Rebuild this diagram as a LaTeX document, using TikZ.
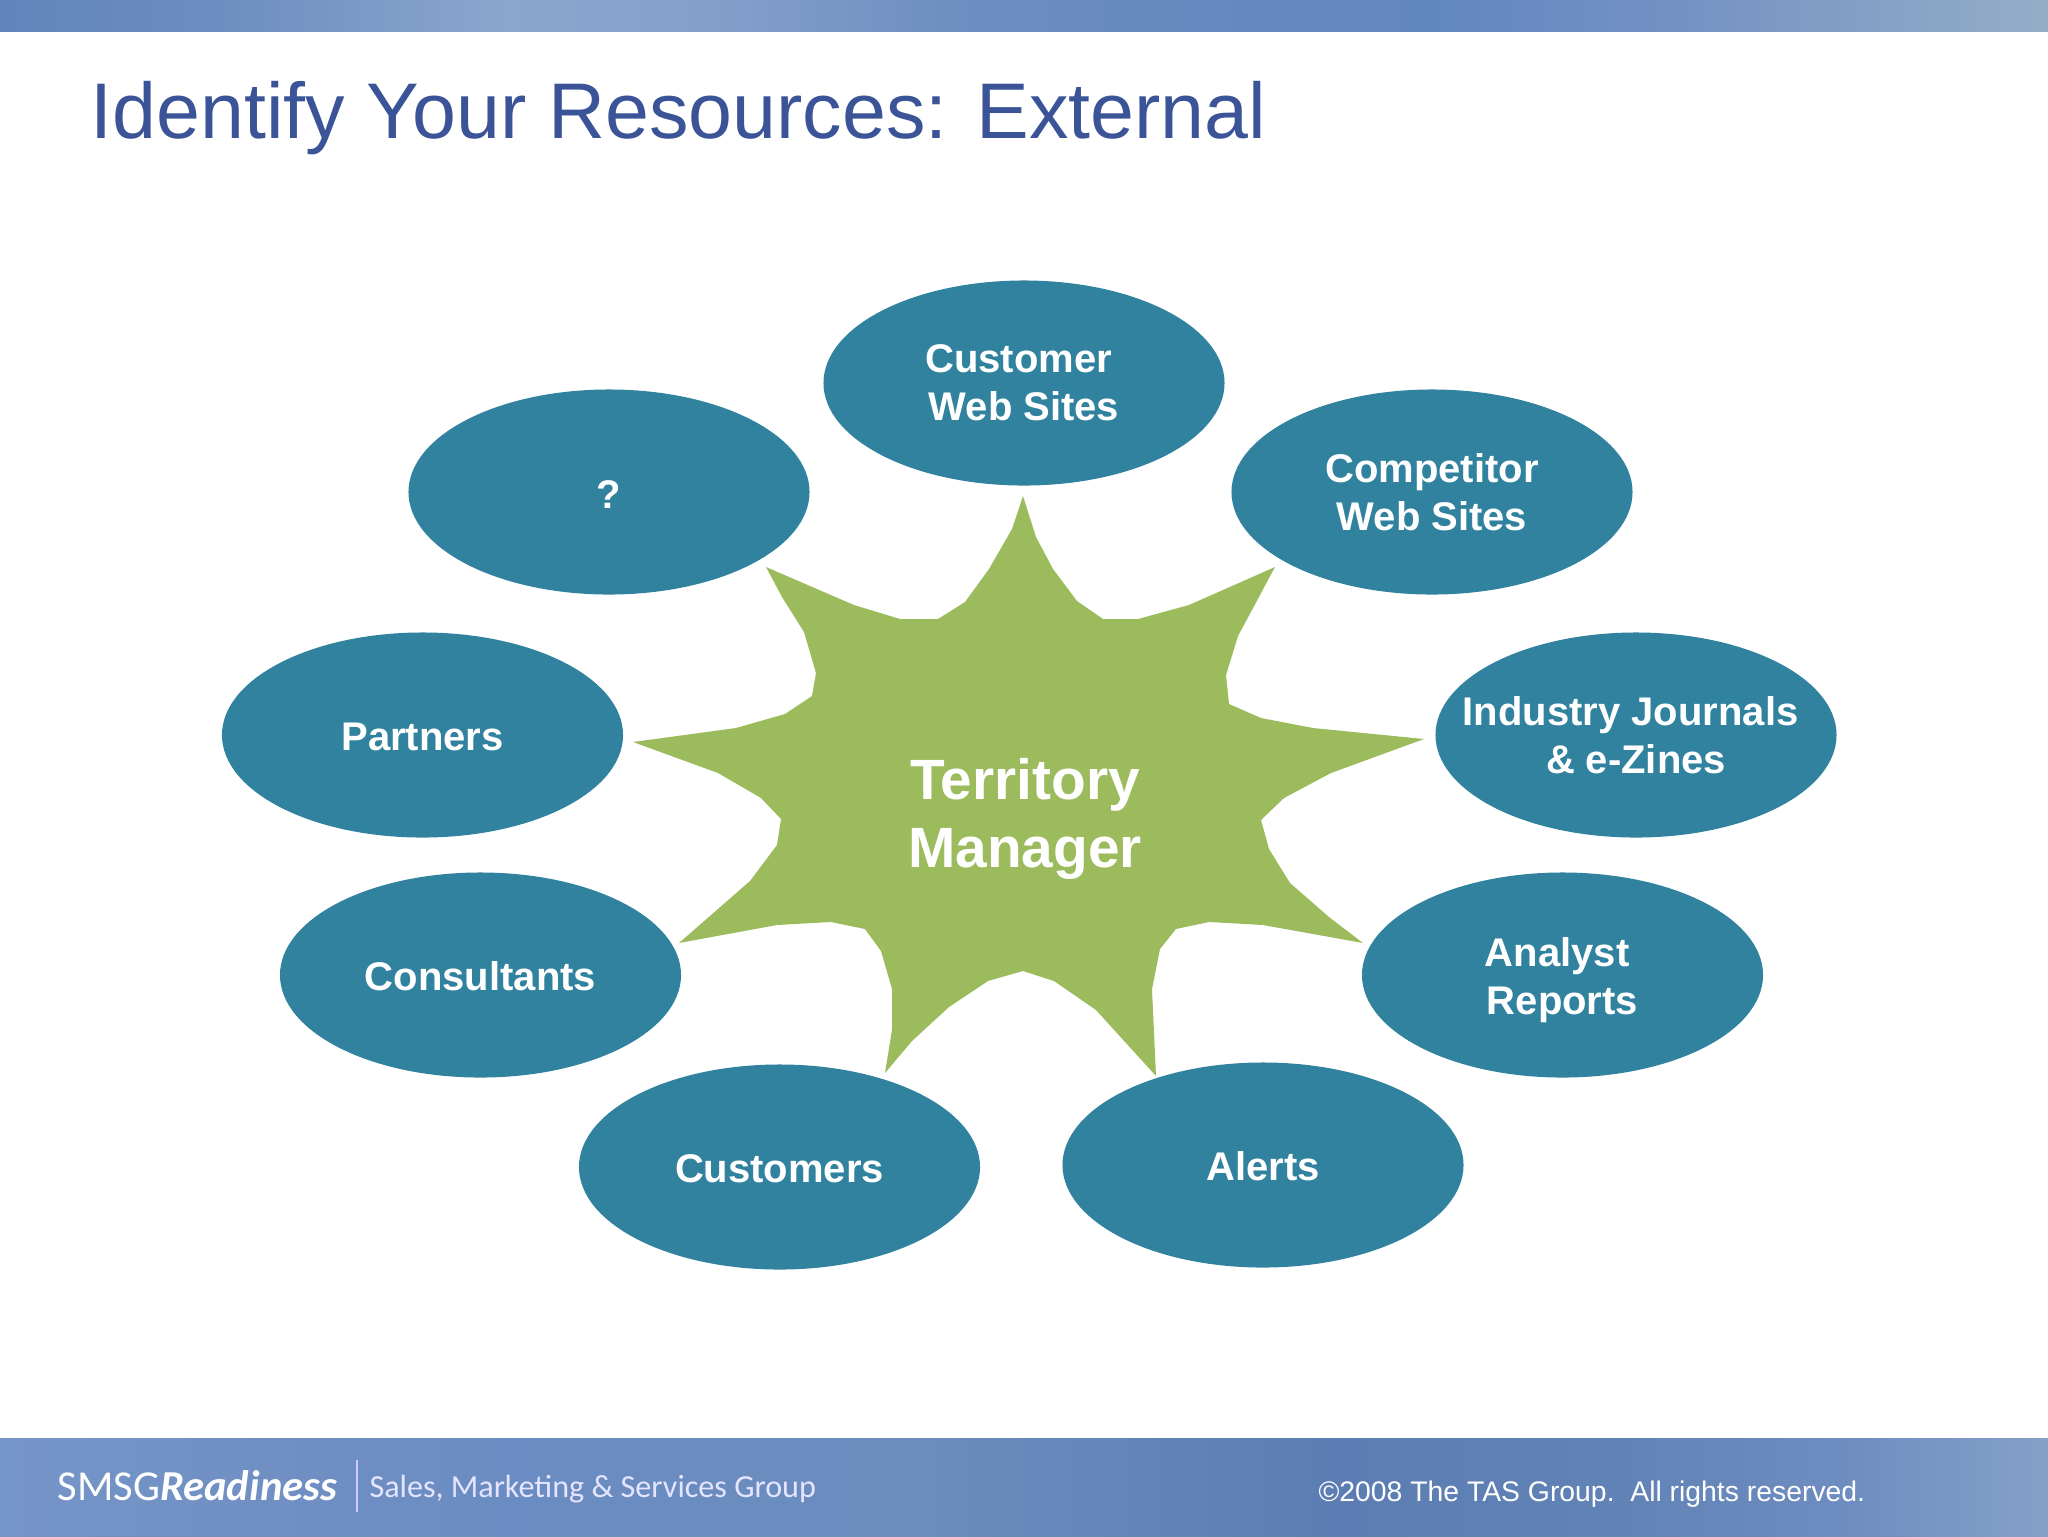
\documentclass[tikz,border=0pt]{standalone}
\usepackage{fontspec}
\setmainfont{Liberation Sans}
\setsansfont{Carlito}
\usepackage{xcolor}
\usetikzlibrary{shapes.geometric}
\definecolor{tealblob}{HTML}{31829E}
\definecolor{stargreen}{HTML}{9BBB5D}
\definecolor{titleblue}{HTML}{3B5497}
\pgfdeclarehorizontalshading{topband}{100bp}{rgb(0bp)=(0.38,0.52,0.73);rgb(25bp)=(0.38,0.52,0.73);rgb(30bp)=(0.42,0.55,0.75);rgb(37.5bp)=(0.55,0.65,0.81);rgb(42.5bp)=(0.52,0.62,0.80);rgb(49bp)=(0.42,0.55,0.75);rgb(60bp)=(0.38,0.53,0.75);rgb(66bp)=(0.46,0.57,0.77);rgb(75bp)=(0.58,0.68,0.78);rgb(100bp)=(0.58,0.68,0.78)}
\pgfdeclarehorizontalshading{footband}{100bp}{rgb(0bp)=(0.46,0.58,0.78);rgb(25bp)=(0.46,0.58,0.78);rgb(37.5bp)=(0.42,0.55,0.76);rgb(47.5bp)=(0.42,0.55,0.74);rgb(57.5bp)=(0.36,0.49,0.70);rgb(64bp)=(0.38,0.51,0.71);rgb(70bp)=(0.43,0.55,0.75);rgb(75bp)=(0.52,0.63,0.79);rgb(100bp)=(0.52,0.63,0.79)}
\tikzset{
  blob/.style={ellipse, fill=tealblob, text=white, font=\fontsize{15}{18}\selectfont\bfseries,
    align=center, minimum width=150.4pt, minimum height=76.9pt, inner xsep=-20pt, inner ysep=-8pt,
    execute at begin node=\rule{0pt}{12.1pt}},
}

\begin{document}
\begin{tikzpicture}[x=0.375pt,y=-0.375pt]
  \useasboundingbox (0,0) rectangle (2048,1536);
  % bands
  \shade[shading=topband] (0,0) rectangle (2048,31);
  \shade[shading=footband] (0,1438) rectangle (2048,1536);

  % title
  \node[anchor=west, inner sep=0pt, text=titleblue, font=\fontsize{29.6}{34}\selectfont] (title) at (90,118.5) {Identify Your Resources: External};

  % star
  \fill[stargreen] (1023,496) -- (1036,537) -- (1053,569) -- (1077,601) -- (1103,619) -- (1138,619)
    -- (1189,605) -- (1275,567) -- (1238,636) -- (1226,675) -- (1229,704) -- (1261,718) -- (1313,728)
    -- (1424,739) -- (1331,773) -- (1284,798) -- (1261,820) -- (1269,849) -- (1290,883) -- (1329,917)
    -- (1363,943) -- (1263,925) -- (1209,922) -- (1176,929) -- (1160,949) -- (1152,989) -- (1156,1076)
    -- (1096,1010) -- (1054,981) -- (1023,971) -- (988,981) -- (949,1007) -- (912,1041) -- (885,1073)
    -- (892,1030) -- (892,989) -- (881,951) -- (865,929) -- (831,922) -- (777,925) -- (679,943)
    -- (750,881) -- (777,845) -- (781,819) -- (761,798) -- (718,773) -- (633,742) -- (736,728)
    -- (785,714) -- (812,696) -- (816,673) -- (804,632) -- (782,597) -- (766,567) -- (854,605)
    -- (900,619) -- (938,619) -- (965,602) -- (989,569) -- (1012,529) -- cycle;
  \node[text=white, align=center, font=\fontsize{21.3}{25.5}\selectfont\bfseries] (manager) at (1025,819) {Territory\\Manager};

  % ellipses
  \node[blob] (custweb) at (1024,383) {Customer\hspace*{4pt}\\Web Sites};
  \node[blob] (unknown) at (609,492) {?};
  \node[blob] (compweb) at (1432,492) {Competitor\\Web Sites};
  \node[blob] (journals) at (1636,735) {Industry Journals\hspace*{4pt}\\\& e-Zines};
  \node[blob] (partners) at (422.5,735) {Partners};
  \node[blob] (consultants) at (480.5,975) {Consultants};
  \node[blob] (analyst) at (1562.5,975) {\rule{0pt}{15pt}Analyst\hspace*{4pt}\\Reports};
  \node[blob] (customers) at (779.5,1167) {Customers};
  \node[blob] (alerts) at (1263,1165) {Alerts};

  % footer
  \node[anchor=west, inner sep=0pt, text=white, font=\sffamily\fontsize{16}{18}\selectfont] (smsg) at (57,1486) {SMSG\textbf{\textit{Readiness}}};
  \node[anchor=west, inner sep=0pt, text=white!90!blue, font=\sffamily\fontsize{12.05}{15}\selectfont] (group) at (369,1489.5) {Sales, Marketing \& Services Group};
  \coordinate (bar top) at (357,1460);
  \coordinate (bar bottom) at (357,1512);
  \draw[white!80!blue, line width=0.6pt] (bar top) -- (bar bottom);
  \node[anchor=west, inner sep=0pt, text=white, font=\fontsize{10.63}{13}\selectfont] (rights) at (1318,1494.5) {©2008 The TAS Group.\ \ All rights reserved.};
\end{tikzpicture}
\end{document}
